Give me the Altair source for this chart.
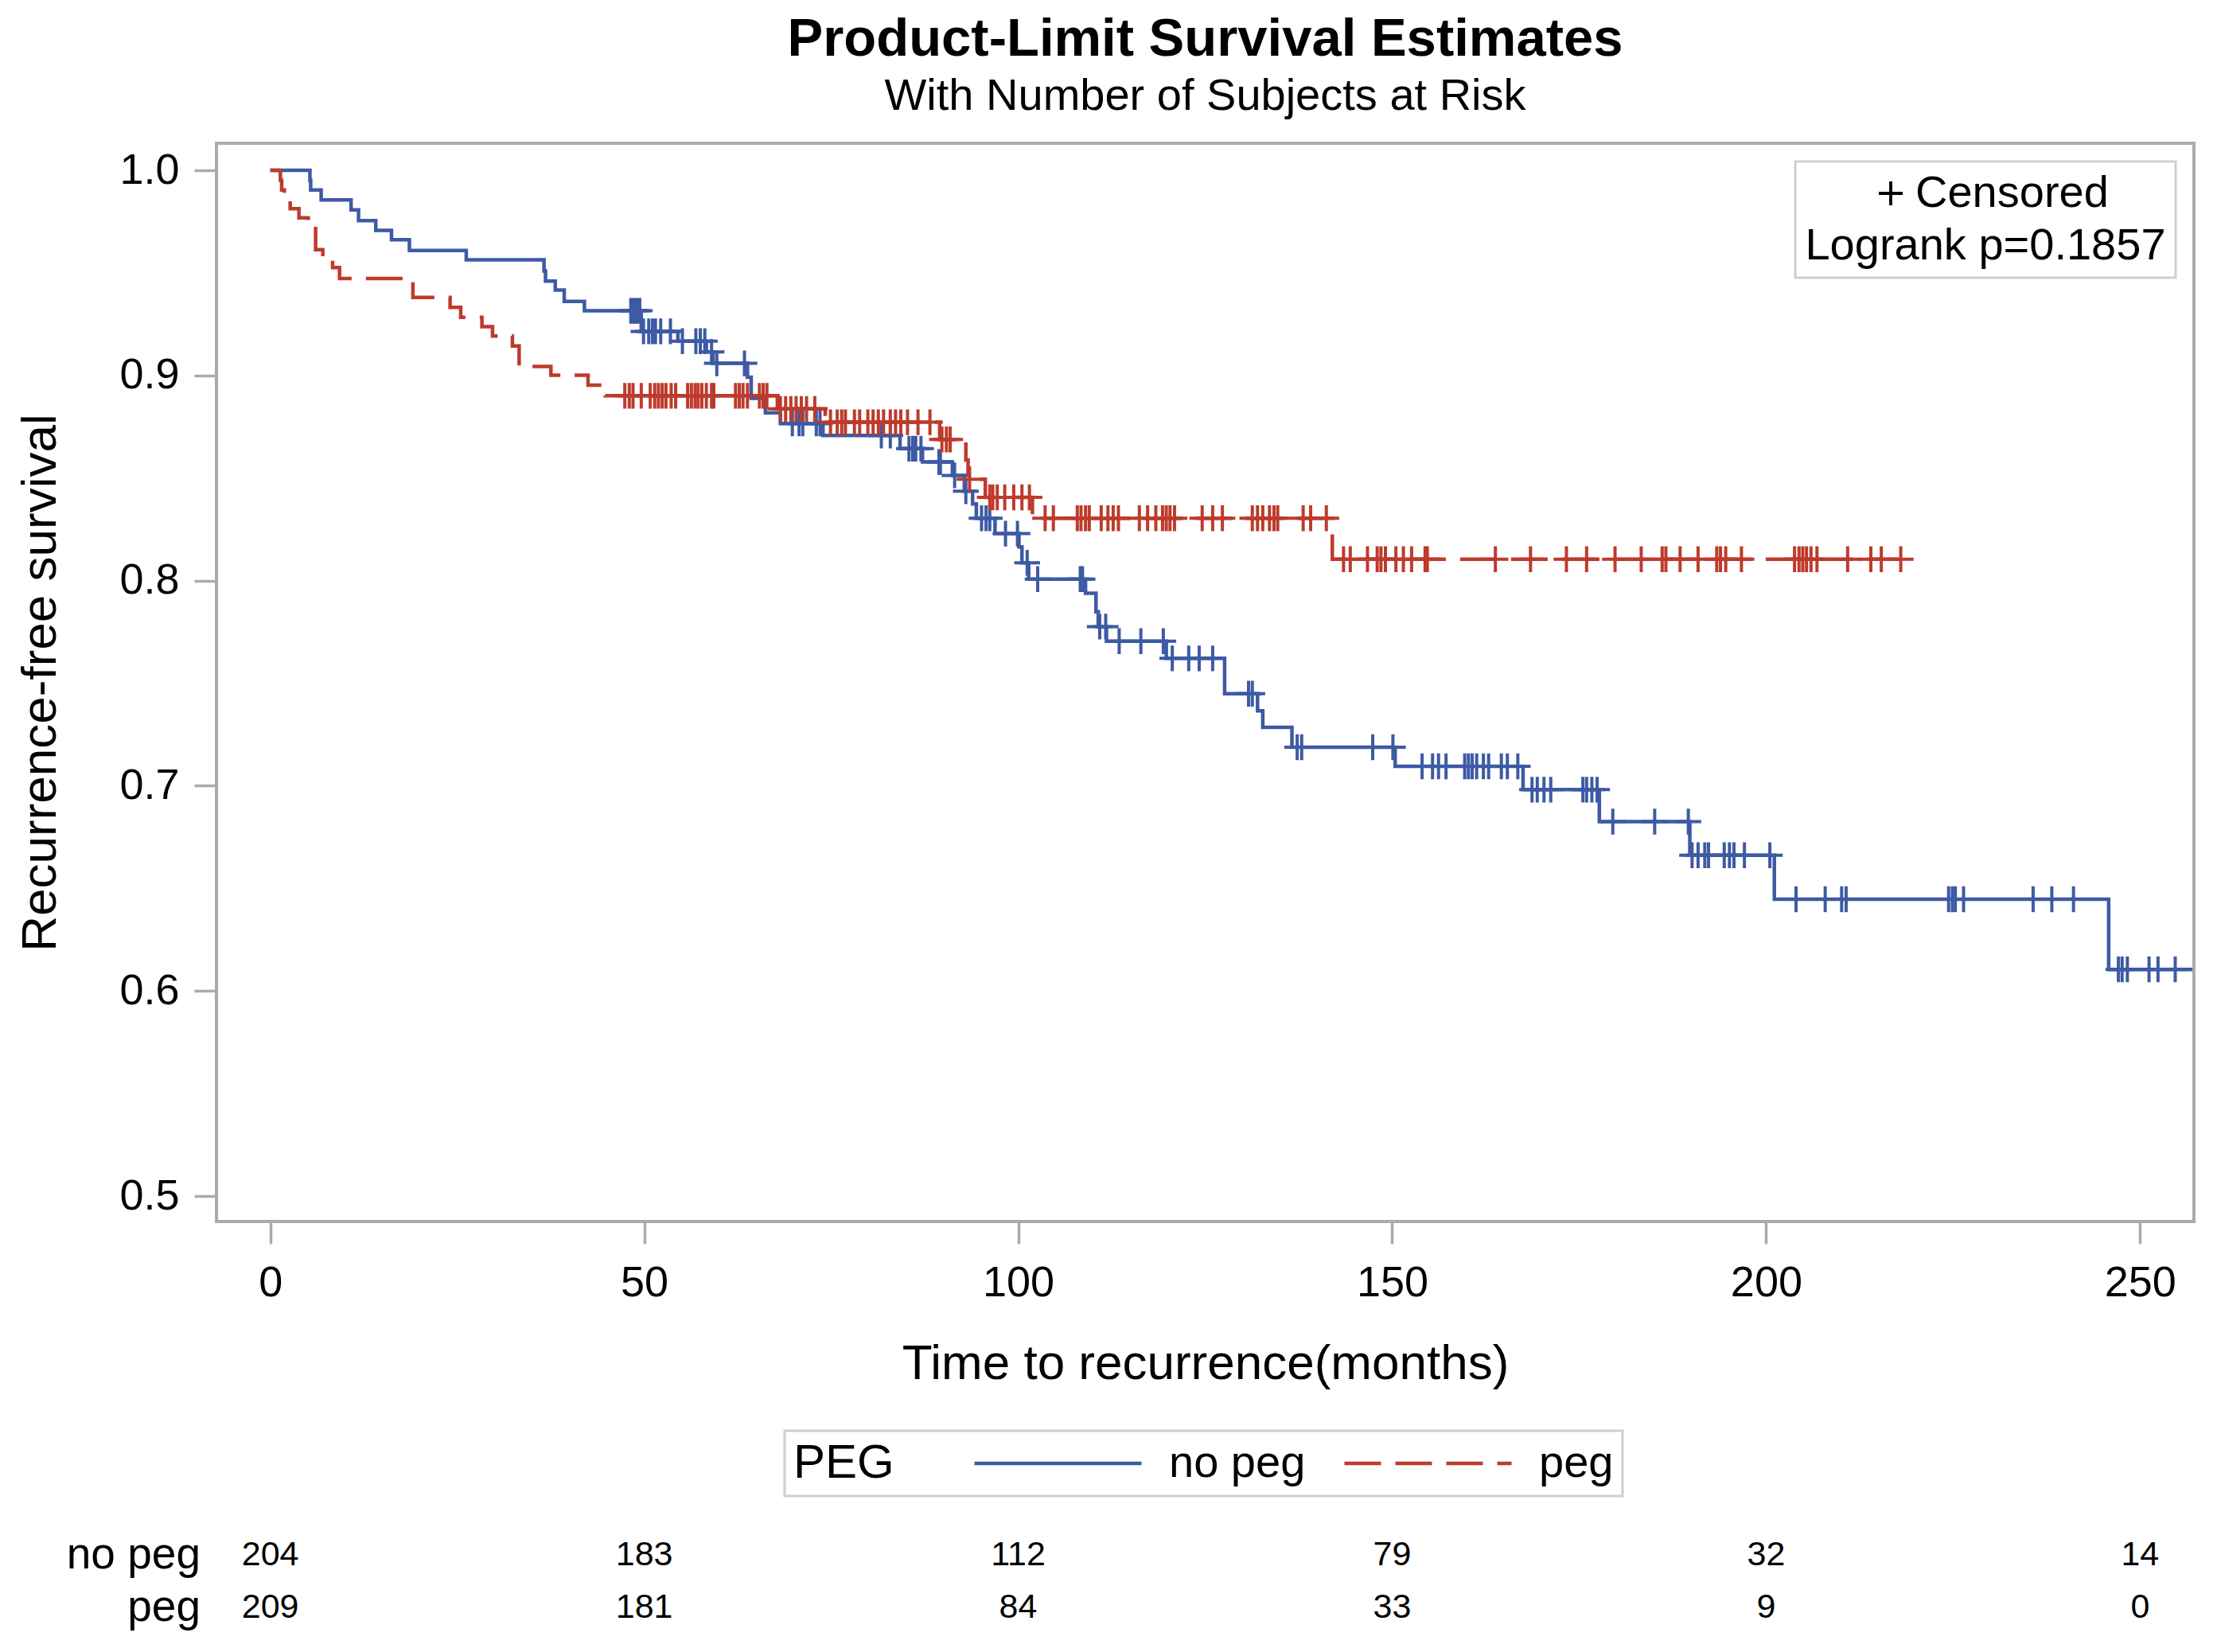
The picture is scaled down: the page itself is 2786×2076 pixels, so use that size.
import altair as alt
import pandas as pd

FONT = "Liberation Sans, Arial, Helvetica, sans-serif"
GRAY = "#A7ACB1"
BOXGRAY = "#CFCFCF"
BLUE = "#3D5AA3"
RED = "#BD3B2C"
PLUS = "M-1,0L1,0M0,-1L0,1"

groups = ["no peg", "peg"]

# ---- no peg: event times and survival after each event ----
no_peg_event_time = [5.3, 5.4, 6.8, 10.8, 11.8, 14.1, 16.2, 18.6, 26.2, 36.6,
                     36.8, 38.1, 39.3, 42.0, 49.6, 54.5, 58.3, 59.2, 63.8, 64.3,
                     66.2, 68.2, 73.9, 84.2, 87.2, 91.2, 92.8, 93.9, 94.4, 96.9,
                     100.1, 100.5, 101.4, 109.0, 110.4, 110.7, 111.8, 119.8, 127.6, 132.0,
                     132.7, 136.6, 150.4, 167.5, 177.7, 189.8, 201.1, 245.8]
no_peg_event_surv = [0.9952, 0.9904, 0.9856, 0.9807, 0.9755, 0.9707, 0.9662, 0.9609, 0.9564, 0.9509,
                     0.9460, 0.9416, 0.9361, 0.9315, 0.9215, 0.9167, 0.9115, 0.9059, 0.8992, 0.8889,
                     0.8818, 0.8766, 0.8707, 0.8643, 0.8578, 0.8513, 0.8436, 0.8374, 0.8304, 0.8229,
                     0.8164, 0.8087, 0.8007, 0.7938, 0.7848, 0.7776, 0.7705, 0.7621, 0.7449, 0.7365,
                     0.7285, 0.7188, 0.7095, 0.6981, 0.6825, 0.6661, 0.6447, 0.6105]
no_peg_last_time = 257.0
no_peg_censor_time = [48.2, 48.5, 48.8, 49.1, 49.4, 49.9, 50.6, 51.1, 51.5, 52.2,
                      53.5, 55.1, 56.9, 57.5, 58.1, 59.0, 59.7, 63.4, 69.8, 70.7,
                      71.2, 73.0, 73.5, 81.7, 82.9, 85.4, 85.9, 86.3, 87.0, 89.4,
                      89.6, 91.5, 93.0, 95.1, 95.7, 96.2, 98.3, 99.9, 101.2, 102.6,
                      108.3, 108.6, 110.9, 111.7, 113.5, 116.4, 119.4, 120.6, 122.8, 124.2,
                      126.0, 130.8, 131.3, 137.3, 137.9, 147.4, 150.1, 154.0, 155.4, 156.2,
                      157.2, 159.7, 160.2, 160.7, 161.3, 162.2, 162.9, 164.6, 165.4, 166.8,
                      168.7, 169.4, 170.3, 171.2, 175.5, 176.0, 176.7, 177.4, 179.5, 185.1,
                      189.6, 190.1, 190.9, 191.8, 192.3, 194.4, 195.1, 195.7, 197.1, 200.5,
                      204.0, 207.9, 210.1, 210.7, 224.4, 224.9, 225.3, 226.4, 235.7, 238.2,
                      241.1, 247.1, 247.6, 248.3, 251.2, 252.4, 254.7]

# ---- peg ----
peg_event_time = [1.35, 1.52, 1.88, 2.66, 3.83, 5.07, 6.06, 7.02, 8.33, 9.26,
                  19.07, 24.04, 25.46, 28.30, 29.71, 32.37, 33.27, 37.52, 42.48, 44.79,
                  67.8, 74.2, 89.5, 93.0, 93.3, 95.6, 101.9, 142.0]
peg_event_surv = [0.9952, 0.9904, 0.9859, 0.9813, 0.9768, 0.9716, 0.9613, 0.9570, 0.9526, 0.9473,
                  0.9380, 0.9332, 0.9283, 0.9238, 0.9192, 0.9144, 0.9044, 0.9001, 0.8953, 0.8901,
                  0.8837, 0.8772, 0.8688, 0.8588, 0.8494, 0.8406, 0.8304, 0.8104]
peg_last_time = 218.0
peg_censor_time = [47.4, 48.0, 48.5, 49.6, 50.8, 51.4, 51.9, 52.4, 52.9, 53.6,
                   54.2, 55.8, 56.3, 56.8, 57.2, 57.7, 58.3, 59.0, 59.3, 62.2,
                   62.7, 63.2, 63.8, 65.4, 65.9, 66.4, 68.2, 68.9, 69.6, 70.3,
                   71.0, 71.7, 72.8, 74.9, 75.8, 76.4, 76.9, 78.1, 78.8, 79.9,
                   80.6, 81.3, 82.0, 82.9, 83.6, 84.3, 85.2, 86.6, 88.2, 89.8,
                   90.4, 90.9, 93.5, 96.2, 96.6, 97.2, 98.2, 99.4, 100.5, 101.5,
                   103.6, 104.7, 107.9, 108.4, 109.0, 109.5, 111.1, 112.0, 112.7, 113.4,
                   116.2, 117.3, 118.4, 119.3, 119.8, 120.3, 120.9, 124.6, 126.0, 127.3,
                   131.3, 132.0, 132.7, 133.6, 134.2, 134.7, 138.1, 139.1, 141.2, 143.5,
                   144.4, 146.7, 148.0, 148.5, 149.1, 150.5, 151.5, 152.6, 154.4, 154.7,
                   163.8, 168.5, 173.3, 176.0, 179.8, 183.3, 186.1, 186.6, 188.5, 190.9,
                   193.4, 193.9, 194.6, 196.7, 203.8, 204.4, 204.9, 205.4, 206.0, 206.8,
                   210.9, 214.0, 215.4, 218.0]

# ---- number at risk ----
risk_time = [0, 50, 100, 150, 200, 250]
risk_no_peg = [204, 183, 112, 79, 32, 14]
risk_peg = [209, 181, 84, 33, 9, 0]

x_ticks = [0, 50, 100, 150, 200, 250]
y_ticks = [0.5, 0.6, 0.7, 0.8, 0.9, 1.0]


def curve_rows(name, times, survs, last):
    rows = [{"time": 0.0, "surv": 1.0, "group": name}]
    for t, s in zip(times, survs):
        rows.append({"time": t, "surv": s, "group": name})
    rows.append({"time": last, "surv": survs[-1], "group": name})
    return rows


def censor_rows(name, ctimes, times, survs):
    rows = []
    for c in ctimes:
        level = 1.0
        for t, s in zip(times, survs):
            if t <= c:
                level = s
        rows.append({"time": c, "surv": level, "group": name, "mark": "Censored"})
    return rows


line_df = pd.DataFrame(curve_rows("no peg", no_peg_event_time, no_peg_event_surv, no_peg_last_time)
                       + curve_rows("peg", peg_event_time, peg_event_surv, peg_last_time))
cens_df = pd.DataFrame(censor_rows("no peg", no_peg_censor_time, no_peg_event_time, no_peg_event_surv)
                       + censor_rows("peg", peg_censor_time, peg_event_time, peg_event_surv))
risk_np_df = pd.DataFrame({"time": risk_time, "n": risk_no_peg})
risk_p_df = pd.DataFrame({"time": risk_time, "n": risk_peg})

x_enc = alt.X("time:Q",
              scale=alt.Scale(domain=[-7.2, 257.2], nice=False, zero=False),
              axis=alt.Axis(values=x_ticks, title="Time to recurrence(months)",
                            labelFlush=False, labelOverlap=False))
y_enc = alt.Y("surv:Q",
              scale=alt.Scale(domain=[0.4876, 1.0132], nice=False, zero=False),
              axis=alt.Axis(values=y_ticks, format=".1f", title="Recurrence-free survival",
                            labelOverlap=False))

peg_legend = alt.Legend(
    title="PEG", orient="none", legendX=714, legendY=1618, direction="horizontal",
    titleOrient="left", titleFontSize=60, titleFont=FONT, titleFontWeight="normal",
    titleColor="black", titlePadding=98, titleLimit=1000,
    labelFontSize=56, labelFont=FONT, labelColor="black", labelOffset=32, labelLimit=1000,
    symbolType="stroke", symbolSize=44100, symbolStrokeWidth=4.5, clipHeight=60,
    columnPadding=46, padding=11, strokeColor=BOXGRAY)

cens_legend = alt.Legend(
    title="Logrank p=0.1857", titleOrient="bottom", titleAnchor="middle",
    orient="top-right", offset=23,
    titleFontSize=56, titleFont=FONT, titleFontWeight="normal", titleColor="black",
    titlePadding=11, titleLimit=1000,
    labelFontSize=56, labelFont=FONT, labelColor="black", labelLimit=1000,
    labelOffset=3, symbolOffset=7, symbolSize=900, symbolStrokeWidth=3.8,
    symbolStrokeColor="black", symbolFillColor="transparent",
    padding=12, strokeColor=BOXGRAY)

lines = alt.Chart(line_df).mark_line(interpolate="step-after", strokeWidth=4.5).encode(
    x=x_enc, y=y_enc,
    color=alt.Color("group:N", scale=alt.Scale(domain=groups, range=[BLUE, RED]), legend=peg_legend),
    strokeDash=alt.StrokeDash("group:N", scale=alt.Scale(domain=groups, range=[[1, 0], [46, 18]]),
                              legend=peg_legend),
)

censors = alt.Chart(cens_df).mark_point(filled=False, size=1050, strokeWidth=4, opacity=1).encode(
    x=x_enc, y=y_enc,
    stroke=alt.Stroke("group:N", scale=alt.Scale(domain=groups, range=[BLUE, RED]), legend=None),
    shape=alt.Shape("mark:N", scale=alt.Scale(domain=["Censored"], range=[PLUS]), legend=cens_legend),
)

risk_np = alt.Chart(risk_np_df).mark_text(font=FONT, fontSize=43, color="black",
                                          align="center", baseline="middle").encode(
    x=x_enc, y=alt.value(1774), text="n:Q")
risk_p = alt.Chart(risk_p_df).mark_text(font=FONT, fontSize=43, color="black",
                                        align="center", baseline="middle").encode(
    x=x_enc, y=alt.value(1840), text="n:Q")

lab_np = alt.Chart(pd.DataFrame({"label": ["no peg"]})).mark_text(
    font=FONT, fontSize=55, color="black", align="right", baseline="middle").encode(
    x=alt.value(-20), y=alt.value(1774), text="label:N")
lab_p = alt.Chart(pd.DataFrame({"label": ["peg"]})).mark_text(
    font=FONT, fontSize=55, color="black", align="right", baseline="middle").encode(
    x=alt.value(-20), y=alt.value(1840), text="label:N")

chart = alt.layer(lines, censors, risk_np, risk_p, lab_np, lab_p).properties(
    width=2485, height=1355,
    padding={"left": 264, "top": 172, "right": 20, "bottom": 520},
    autosize=alt.AutoSizeParams(type="none"),
    title=alt.TitleParams(
        text="Product-Limit Survival Estimates",
        subtitle="With Number of Subjects at Risk",
        font=FONT, fontSize=67, fontWeight="bold", color="black",
        subtitleFont=FONT, subtitleFontSize=56, subtitleColor="black",
        subtitlePadding=10, anchor="middle", offset=30),
).configure_view(
    stroke=GRAY, strokeWidth=4
).configure_axis(
    labelFont=FONT, titleFont=FONT, labelColor="black", titleColor="black",
    titleFontWeight="normal", tickColor=GRAY, tickWidth=3.5, tickSize=28,
    domain=False, grid=False, labelFontSize=54, titleFontSize=62
).configure_axisX(
    labelPadding=22, titlePadding=44
).configure_axisY(
    labelPadding=19, titlePadding=67
).configure_legend(
    strokeWidth=3
)

chart.save("out.html", embed_options={"renderer": "svg", "actions": False})
